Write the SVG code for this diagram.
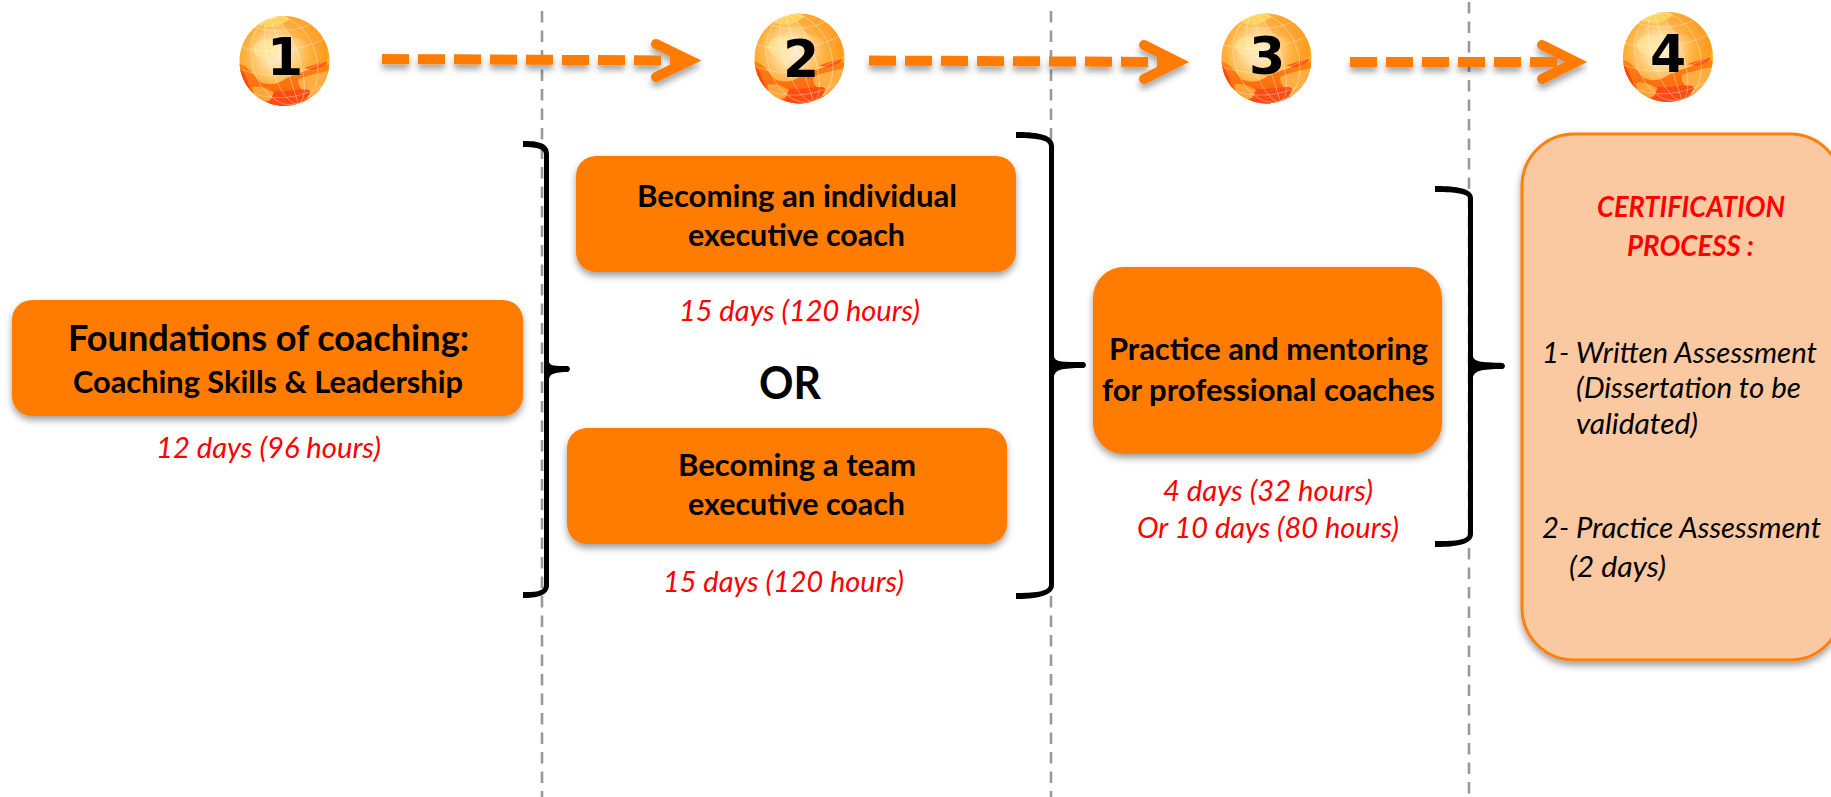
<svg xmlns="http://www.w3.org/2000/svg" xmlns:xlink="http://www.w3.org/1999/xlink" width="1831" height="797" viewBox="0 0 1831 797">
<style>
text{font-family:Lato,"Liberation Sans",sans-serif}
.box{fill:#ff7b00;filter:url(#sh)}
.cert{fill:#fbc9a1;stroke:#ff7f0a;stroke-width:3;filter:url(#sh)}
.t{font-weight:700;fill:#000;text-anchor:start}
.d{font-style:italic;fill:#f00;font-size:29px}
.k{font-style:italic;fill:#000;font-size:29px}
.c{font-style:italic;font-weight:700;fill:#f00;font-size:29px}
.num{font-family:"DejaVu Sans",sans-serif;font-weight:700;font-size:52px;fill:#000;text-anchor:middle}
.v{stroke:#999;stroke-width:2.6;stroke-dasharray:11.5 8;fill:none}
.dash{stroke:#ff7b00;stroke-width:10;stroke-dasharray:27 9;fill:none}
.head{stroke:#ff7b00;stroke-width:10;stroke-linecap:round;stroke-linejoin:miter;fill:none}
.arrow{filter:url(#sa)}
.br{fill:#000}
.grid{fill:none;stroke:#fff;stroke-width:.8;opacity:.42}
</style>
<defs>
<filter id="sh" x="-10%" y="-10%" width="120%" height="125%"><feDropShadow dx="0" dy="4" stdDeviation="3.5" flood-color="#000" flood-opacity=".38"/></filter>
<filter id="sa" x="-5%" y="-30%" width="110%" height="170%"><feDropShadow dx="0" dy="5" stdDeviation="3" flood-color="#000" flood-opacity=".35"/></filter>
<radialGradient id="gb" cx=".42" cy=".42" r=".62">
<stop offset="0" stop-color="#fff3e0"/><stop offset=".28" stop-color="#ffdb9c"/><stop offset=".58" stop-color="#ffb23e"/><stop offset=".88" stop-color="#ff9a1a"/><stop offset="1" stop-color="#ffc826"/>
</radialGradient>
<linearGradient id="gr" x1="0" y1="0" x2="0" y2="1"><stop offset="0" stop-color="#ff8412"/><stop offset=".6" stop-color="#ff6a10"/><stop offset="1" stop-color="#ff4510"/></linearGradient>
<clipPath id="gc"><ellipse cx="0" cy="0" rx="45" ry="45"/></clipPath>
<g id="globe">
<ellipse cx="0" cy="0" rx="45" ry="45" fill="url(#gb)"/>
<g clip-path="url(#gc)">
<path d="M-30,-38C-15,-30 -5,-34 5,-42L-5,-50L-30,-45Z" fill="#ffe06a" opacity=".7"/>
<path d="M-30,-16C-24,-26 -10,-22 -6,-14C-2,-4 -14,2 -22,-2C-30,-6 -34,-10 -30,-16Z" fill="#ffe79a" opacity=".65"/>
<path d="M0,-38C12,-44 30,-36 38,-16C34,-8 28,-10 24,-18C18,-24 12,-20 6,-26C2,-30 -2,-34 0,-38Z" fill="#ff9f30" opacity=".45"/>
<path d="M-46,3C-38,3 -32,13 -24,21C-14,25 -6,23 2,17C14,13 26,7 46,3L46,50L-46,50Z" fill="url(#gr)"/>
<path d="M-46,6C-40,10 -36,22 -34,30L-46,30Z" fill="#ff4a12"/>
<path d="M-32,26C-24,24 -16,28 -10,32C-6,36 -18,44 -30,40Z" fill="#ffa53a"/>
<path d="M14,18C24,14 34,12 44,10C44,24 34,36 24,38C20,30 12,26 14,18Z" fill="#ffae44"/>
<path d="M-10,30C4,32 20,26 26,30C24,42 0,50 -16,44Z" fill="#ff4c12"/>
<path d="M20,7C28,4 36,2 42,0C44,3 36,7 28,9Z" fill="#ff5a10"/>
<ellipse class="grid" cx="0" cy="0" rx="15" ry="45" transform="rotate(-18)"/>
<ellipse class="grid" cx="0" cy="0" rx="32" ry="45" transform="rotate(-18)"/>
<path class="grid" d="M-44,-14Q0,-2 44,-24M-45,8Q0,24 45,-2M-38,30Q0,46 40,24M-32,-34Q0,-24 30,-38"/>
<path class="grid" d="M0,-45V45" transform="rotate(-18)"/>
</g>
</g>
</defs>
<rect width="1831" height="797" fill="#fff"/>
<g id="connectors">
<path class="v" d="M542,11V797"/>
<path class="v" d="M1051,11V797"/>
<path class="v" d="M1469,2V797"/>
<g class="arrow"><path class="dash" d="M382,59L682,60.5"/><path class="head" d="M656,44L690,60.5L656,77"/></g>
<g class="arrow"><path class="dash" d="M869,60.5L1172,62"/><path class="head" d="M1144,45L1178,62L1144,79"/></g>
<g class="arrow"><path class="dash" d="M1350,62H1568"/><path class="head" d="M1542,45L1576,62L1542,79"/></g>
<path class="br" d="M523,141C536,141 549,142 549,154L549,362C550,366 554,366 568,366Q572,369 568,372C554,372 550,374 549,379L549,585C549,596 536,598 523,598L523,592C534,592 544,592 544,585L544,372Q544,369 544,366L544,154C544,148 534,147 523,147Z"/>
<path class="br" d="M1016,132C1032,132 1054,133 1054,146L1054,356C1055,362 1060,362 1084,362Q1088,365 1084,368C1060,368 1056,370 1054,376L1054,585C1054,597 1032,599 1016,599L1016,593C1032,593 1049,592 1049,585L1049,368Q1049,365 1049,362L1049,146C1049,139 1032,138 1016,138Z"/>
<path class="br" d="M1435,186C1450,186 1473,187 1473,198L1473,356C1474,362 1480,362 1503,363Q1507,366 1503,369C1480,369 1475,371 1473,377L1473,534C1473,546 1450,547 1435,547L1435,541C1450,541 1468,541 1468,534L1468,369Q1468,366 1468,363L1468,198C1468,193 1450,192 1435,192Z"/>
</g>
<g id="globe-1"><use xlink:href="#globe" href="#globe" x="284.5" y="61"/><text class="num" x="285" y="75">1</text></g>
<g id="globe-2"><use xlink:href="#globe" href="#globe" x="799.5" y="58.5"/><text class="num" x="801" y="77">2</text></g>
<g id="globe-3"><use xlink:href="#globe" href="#globe" x="1266.5" y="58.5"/><text class="num" x="1267" y="74">3</text></g>
<g id="globe-4"><use xlink:href="#globe" href="#globe" x="1668" y="57"/><text class="num" x="1668" y="72">4</text></g>
<g id="foundations">
<rect class="box" x="12" y="300" width="511" height="116" rx="20"/>
<text class="t" x="68" y="351" font-size="36" textLength="401" lengthAdjust="spacingAndGlyphs">Foundations of coaching:</text>
<text class="t" x="73" y="393" font-size="31" textLength="390" lengthAdjust="spacingAndGlyphs">Coaching Skills &amp; Leadership</text>
<text class="d" x="156" y="458" textLength="225" lengthAdjust="spacingAndGlyphs">12 days (96 hours)</text>
</g>
<g id="individual">
<rect class="box" x="576" y="156" width="440" height="116" rx="20"/>
<text class="t" x="637" y="207" font-size="31" textLength="320" lengthAdjust="spacingAndGlyphs">Becoming an individual</text>
<text class="t" x="688" y="246" font-size="31" textLength="217" lengthAdjust="spacingAndGlyphs">executive coach</text>
<text class="d" x="679" y="321" textLength="241" lengthAdjust="spacingAndGlyphs">15 days (120 hours)</text>
</g>
<g id="or"><text class="t" x="759" y="399" font-size="45" textLength="62" lengthAdjust="spacingAndGlyphs">OR</text></g>
<g id="team">
<rect class="box" x="567" y="428" width="440" height="116" rx="20"/>
<text class="t" x="678" y="476" font-size="31" textLength="238" lengthAdjust="spacingAndGlyphs">Becoming a team</text>
<text class="t" x="688" y="515" font-size="31" textLength="217" lengthAdjust="spacingAndGlyphs">executive coach</text>
<text class="d" x="663" y="592" textLength="241" lengthAdjust="spacingAndGlyphs">15 days (120 hours)</text>
</g>
<g id="practice">
<rect class="box" x="1093" y="267" width="349" height="187" rx="31"/>
<text class="t" x="1109" y="360" font-size="31" textLength="319" lengthAdjust="spacingAndGlyphs">Practice and mentoring</text>
<text class="t" x="1102" y="401" font-size="31" textLength="333" lengthAdjust="spacingAndGlyphs">for professional coaches</text>
<text class="d" x="1163" y="501" textLength="210" lengthAdjust="spacingAndGlyphs">4 days (32 hours)</text>
<text class="d" x="1137" y="538" textLength="262" lengthAdjust="spacingAndGlyphs">Or 10 days (80 hours)</text>
</g>
<g id="certification">
<rect class="cert" x="1522" y="134" width="320" height="526" rx="52"/>
<text class="c" x="1597" y="217" textLength="188" lengthAdjust="spacingAndGlyphs">CERTIFICATION</text>
<text class="c" x="1627" y="256" textLength="127" lengthAdjust="spacingAndGlyphs">PROCESS :</text>
<text class="k" x="1542" y="363" textLength="275" lengthAdjust="spacingAndGlyphs">1- Written Assessment</text>
<text class="k" x="1576" y="398" textLength="225" lengthAdjust="spacingAndGlyphs">(Dissertation to be</text>
<text class="k" x="1576" y="434" textLength="122" lengthAdjust="spacingAndGlyphs">validated)</text>
<text class="k" x="1542" y="538" textLength="279" lengthAdjust="spacingAndGlyphs">2- Practice Assessment</text>
<text class="k" x="1569" y="577" textLength="97" lengthAdjust="spacingAndGlyphs">(2 days)</text>
</g>
</svg>
